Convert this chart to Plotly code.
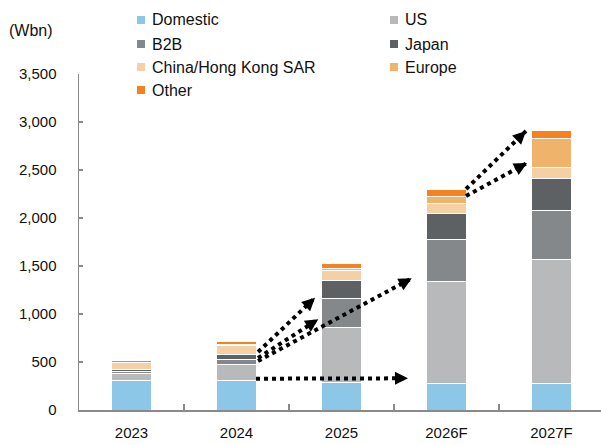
import math
import plotly.graph_objects as go

# ---------------- data ----------------
years = ["2023", "2024", "2025", "2026F", "2027F"]
series_names = ["Domestic", "US", "B2B", "Japan", "China/Hong Kong SAR", "Europe", "Other"]
domestic = [305, 312, 284, 278, 271]
us = [75, 157, 577, 1058, 1299]
b2b = [21, 59, 302, 442, 513]
japan = [18, 55, 191, 271, 331]
china_hk = [71, 84, 94, 104, 114]
europe = [5, 12, 25, 69, 295]
other = [22, 32, 48, 77, 86]
y_tick_vals = [0, 500, 1000, 1500, 2000, 2500, 3000, 3500]
unit_label = "(Wbn)"

# arrows: start/end in (category index, Wbn)
arrow_x0 = [1.186, 1.205, 1.205, 1.205, 3.186, 3.186]
arrow_y0 = [326, 604, 542, 510, 2302, 2229]
arrow_x1 = [2.633, 1.748, 1.779, 2.669, 3.757, 3.767]
arrow_y1 = [330, 1170, 945, 1372, 2906, 2573]

# ---------------- styles ----------------
colors = ["#8DC7E8", "#B8B9BB", "#85888A", "#5E6164", "#F5D0A5", "#F0B36B", "#F5821F"]
font_family = "Liberation Sans, Arial, sans-serif"
W, H = 601, 445
ML, MR, MT, MB = 79, 0, 74, 35
plot_w = W - ML - MR
plot_h = H - MT - MB
cat_px = 105.0
y_max = 3500
px_per_unit = plot_h / y_max

values = [domestic, us, b2b, japan, china_hk, europe, other]

fig = go.Figure()
for name, vals, col in zip(series_names, values, colors):
    fig.add_trace(go.Bar(
        x=years, y=vals, name=name,
        marker=dict(color=col, line=dict(color="white", width=1)),
        width=0.39, showlegend=False,
    ))

# dotted arrow lines + arrow heads
tail_len = 8
for x0, y0, x1, y1 in zip(arrow_x0, arrow_y0, arrow_x1, arrow_y1):
    fig.add_shape(type="line", xref="x", yref="y", x0=x0, y0=y0, x1=x1, y1=y1,
                  line=dict(color="black", width=4, dash="dot"))
    dxp = (x1 - x0) * cat_px
    dyp = -(y1 - y0) * px_per_unit
    n = math.hypot(dxp, dyp)
    fig.add_annotation(x=x1, y=y1, xref="x", yref="y",
                       ax=-dxp / n * tail_len, ay=-dyp / n * tail_len,
                       text="", showarrow=True,
                       arrowhead=2, arrowsize=1.3, arrowwidth=2, arrowcolor="black",
                       standoff=0)

# manual legend (two columns, row-major)
def px_to_paper_x(px):
    return (px - ML) / plot_w

def py_to_paper_y(py):
    return (H - MB - py) / plot_h

row_y = [20, 44, 67, 90]
col_marker_x = [137, 390]
col_text_x = [150, 403]
msize = 8
for i, (name, col) in enumerate(zip(series_names, colors)):
    r, c = divmod(i, 2)
    cy = row_y[r]
    mx = col_marker_x[c]
    fig.add_shape(type="rect", xref="paper", yref="paper",
                  x0=px_to_paper_x(mx), x1=px_to_paper_x(mx + msize),
                  y0=py_to_paper_y(cy + msize / 2), y1=py_to_paper_y(cy - msize / 2),
                  fillcolor=col, line=dict(width=0))
    fig.add_annotation(x=px_to_paper_x(col_text_x[c]), y=py_to_paper_y(cy),
                       xref="paper", yref="paper", text=name, showarrow=False,
                       xanchor="left", yanchor="middle",
                       font=dict(size=16, color="#111111", family=font_family))

fig.add_annotation(x=px_to_paper_x(7), y=py_to_paper_y(30), xref="paper", yref="paper",
                   text=unit_label, showarrow=False, xanchor="left", yanchor="middle",
                   font=dict(size=16, color="#111111", family=font_family))

fig.update_layout(
    barmode="stack",
    width=W, height=H,
    margin=dict(l=ML, r=MR, t=MT, b=MB, pad=0),
    paper_bgcolor="white", plot_bgcolor="white",
    font=dict(family=font_family, size=15, color="#111111"),
    showlegend=False,
)
fig.update_xaxes(
    type="category", range=[-0.5, -0.5 + plot_w / cat_px],
    showline=True, linecolor="#8A8A8A", linewidth=1.5,
    ticks="inside", ticklen=6, tickcolor="#8A8A8A", tickwidth=1.5,
    tickson="boundaries", showgrid=False, zeroline=False,
    tickfont=dict(size=15, family=font_family, color="#111111"),
    ticklabelstandoff=8,
)
fig.update_yaxes(
    range=[0, y_max], tickvals=y_tick_vals, tickformat=",",
    showline=True, linecolor="#8A8A8A", linewidth=1.5,
    ticks="inside", ticklen=4, tickcolor="#8A8A8A", tickwidth=1.5,
    showgrid=False, zeroline=False,
    tickfont=dict(size=15, family=font_family, color="#111111"),
    ticklabelstandoff=18,
)

fig.write_html("out.html",
               config={"displayModeBar": False, "staticPlot": True},
               post_script="document.body.style.margin='0px';document.body.style.overflow='hidden';")
